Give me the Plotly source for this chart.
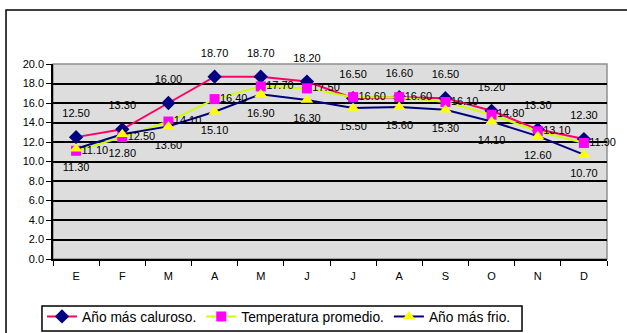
import plotly.graph_objects as go

# Monthly temperatures (°C)
months = ["E", "F", "M", "A", "M ", "J", "J ", "A ", "S", "O", "N", "D"]
month_labels = ["E", "F", "M", "A", "M", "J", "J", "A", "S", "O", "N", "D"]
hot_year = [12.50, 13.30, 16.00, 18.70, 18.70, 18.20, 16.50, 16.60, 16.50, 15.20, 13.30, 12.30]
avg_temp = [11.10, 12.50, 14.10, 16.40, 17.70, 17.50, 16.60, 16.60, 16.10, 14.80, 13.10, 11.90]
cold_year = [11.30, 12.80, 13.60, 15.10, 16.90, 16.30, 15.50, 15.60, 15.30, 14.10, 12.60, 10.70]
y_ticks = [0, 2, 4, 6, 8, 10, 12, 14, 16, 18, 20]

font_family = "Liberation Sans, Arial, sans-serif"
label_font = dict(family=font_family, size=11, color="black")

series = [
    dict(name="Año más caluroso.", y=hot_year, line="#FF0066",
         symbol="diamond", size=11, mcolor="#000080",
         textpos="top center", pad=26),
    dict(name="Temperatura promedio.", y=avg_temp, line="#CCFF00",
         symbol="square", size=10, mcolor="#FF00FF",
         textpos="middle right", pad=7),
    dict(name="Año más frio.", y=cold_year, line="#000080",
         symbol="triangle-up", size=11, mcolor="#FFFF00",
         textpos="bottom center", pad=21),
]

fig = go.Figure()

for s in series:
    fig.add_trace(go.Scatter(
        x=months, y=s["y"], name=s["name"], mode="lines+markers",
        line=dict(color=s["line"], width=2),
        marker=dict(symbol=s["symbol"], size=s["size"], color=s["mcolor"]),
        cliponaxis=False,
    ))

# value labels; an invisible marker sets the gap between label and point
for s in series:
    fig.add_trace(go.Scatter(
        x=months, y=s["y"], mode="markers+text", showlegend=False,
        hoverinfo="skip",
        marker=dict(size=s["pad"], color="rgba(0,0,0,0)"),
        texttemplate="%{y:.2f}", textposition=s["textpos"],
        textfont=label_font, cliponaxis=False,
    ))

# outer chart frame, grey plot-area border and legend frame
fig.add_shape(type="rect", xref="paper", yref="paper",
              x0=-0.0848, x1=1.2, y0=-0.6, y1=1.277,
              line=dict(color="black", width=1.5), layer="below")
fig.add_shape(type="rect", xref="paper", yref="paper",
              x0=0, x1=1, y0=0, y1=1,
              line=dict(color="#909090", width=1.5), layer="below")
fig.add_shape(type="rect", xref="paper", yref="paper",
              x0=-0.0199, x1=0.8466, y0=-0.369, y1=-0.241,
              line=dict(color="black", width=1.5), layer="above")

fig.update_layout(
    width=627, height=333,
    margin=dict(l=53, r=20, t=64, b=74),
    paper_bgcolor="white",
    plot_bgcolor="#DDDDDD",
    font=dict(family=font_family, size=11, color="black"),
    showlegend=True,
    legend=dict(
        orientation="h", xref="container", yref="container",
        x=42 / 627, y=1 - 301 / 333, xanchor="left", yanchor="top",
        borderwidth=0, bgcolor="rgba(0,0,0,0)",
        font=dict(family=font_family, size=13.8, color="black"),
        itemwidth=30, tracegroupgap=0,
    ),
    xaxis=dict(
        categoryorder="array", categoryarray=months,
        range=[-0.5, len(months) - 0.5],
        tickmode="array", tickvals=months, ticktext=month_labels,
        tickson="boundaries", ticks="outside", ticklen=5, tickcolor="black",
        ticklabelstandoff=6,
        showline=True, linecolor="black", linewidth=1.5,
        showgrid=False, zeroline=False, automargin=False,
        tickfont=dict(family=font_family, size=11, color="black"),
    ),
    yaxis=dict(
        range=[0, 20], tickmode="array", tickvals=y_ticks, tickformat=".1f",
        ticks="outside", ticklen=5, tickcolor="black",
        showline=True, linecolor="black", linewidth=1.5,
        showgrid=True, gridcolor="black", gridwidth=1.5,
        zeroline=False, automargin=False,
        tickfont=dict(family=font_family, size=11, color="black"),
    ),
)

fig.write_html("out.html")
